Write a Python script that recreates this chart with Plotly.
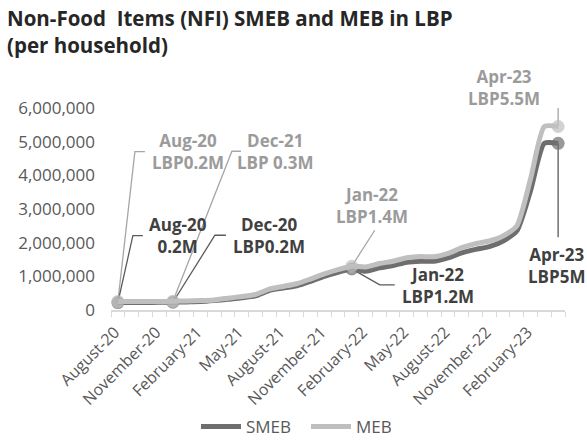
import plotly.graph_objects as go

months = ["Aug-20", "Sep-20", "Oct-20", "Nov-20", "Dec-20", "Jan-21", "Feb-21", "Mar-21",
          "Apr-21", "May-21", "Jun-21", "Jul-21", "Aug-21", "Sep-21", "Oct-21", "Nov-21",
          "Dec-21", "Jan-22", "Feb-22", "Mar-22", "Apr-22", "May-22", "Jun-22", "Jul-22",
          "Aug-22", "Sep-22", "Oct-22", "Nov-22", "Dec-22", "Jan-23", "Feb-23", "Mar-23",
          "Apr-23"]
tick_labels = ["August-20", "", "", "November-20", "", "", "February-21", "", "", "May-21", "", "",
               "August-21", "", "", "November-21", "", "", "February-22", "", "", "May-22", "", "",
               "August-22", "", "", "November-22", "", "", "February-23", "", ""]

smeb = [220000, 220000, 220000, 230000, 230000, 240000, 250000, 280000,
        320000, 360000, 420000, 580000, 650000, 720000, 850000, 1000000,
        1120000, 1220000, 1150000, 1250000, 1320000, 1420000, 1450000, 1450000,
        1550000, 1700000, 1800000, 1880000, 2050000, 2350000, 3550000, 4950000,
        4950000]
meb = [250000, 250000, 250000, 250000, 260000, 270000, 280000, 300000,
       350000, 400000, 460000, 620000, 700000, 780000, 920000, 1070000,
       1200000, 1300000, 1280000, 1380000, 1450000, 1550000, 1590000, 1580000,
       1680000, 1850000, 1970000, 2050000, 2200000, 2500000, 3900000, 5450000,
       5450000]
highlight = ["Aug-20", "Dec-20", "Jan-22", "Apr-23"]

SMEB_C = "#6e6e6e"
MEB_C = "#bfbfbf"
DARK_T = "#404040"
LIGHT_T = "#9b9b9b"
FONT = "Open Sans"

W, H = 587, 443
L, R, T, B = 111, 22, 108, 133
PW, PH = W - L - R, H - T - B

def px(xf):
    return (xf - L) / PW

def py(yf):
    return (H - B - yf) / PH

sizes = [13 if m in highlight else 0 for m in months]

fig = go.Figure()
fig.add_trace(go.Scatter(x=months, y=smeb, name="SMEB", mode="lines+markers",
                         line=dict(color=SMEB_C, width=5, shape="spline", smoothing=0.6),
                         marker=dict(size=sizes, color=SMEB_C, line=dict(width=0))))
fig.add_trace(go.Scatter(x=months, y=meb, name="MEB", mode="lines+markers",
                         line=dict(color=MEB_C, width=5, shape="spline", smoothing=0.6),
                         marker=dict(size=sizes, color=MEB_C, line=dict(width=0))))

def val(series, m):
    return series[months.index(m)]

# (series, month, text, color, xshift, yshift, leader path in px)
labels = [
    (meb, "Aug-20", "Aug-20<br>LBP0.2M", LIGHT_T, 70, 150, "M0,0 L17,150 L27,150"),
    (meb, "Dec-20", "Dec-21<br>LBP 0.3M", LIGHT_T, 102, 150, "M0,0 L59,150 L68,150"),
    (smeb, "Aug-20", "Aug-20<br>0.2M", DARK_T, 60, 67, "M0,0 L15,67 L25,67"),
    (smeb, "Dec-20", "Dec-20<br>LBP0.2M", DARK_T, 96, 67, "M0,0 L42,67 L53,67"),
    (meb, "Jan-22", "Jan-22<br>LBP1.4M", LIGHT_T, 20, 61, "M0,0 L23,36"),
    (smeb, "Jan-22", "Jan-22<br>LBP1.2M", DARK_T, 86, -17, "M0,0 L28,-16 L43,-16"),
    (meb, "Apr-23", "Apr-23<br>LBP5.5M", LIGHT_T, -54, 39, "M0,0 L0,40 L-10,40"),
    (smeb, "Apr-23", "Apr-23<br>LBP5M", DARK_T, -2, -122, "M0,0 L0,-94"),
]
line_col = {LIGHT_T: "#a6a6a6", DARK_T: "#5a5a5a"}
for series, m, text, col, xs, ys, path in labels:
    y = val(series, m)
    fig.add_shape(type="path", xref="x", yref="y", xsizemode="pixel", ysizemode="pixel",
                  xanchor=m, yanchor=y, path=path,
                  line=dict(color=line_col[col], width=1.3), layer="below")
    fig.add_annotation(x=m, y=y, xref="x", yref="y", text="<b>" + text + "</b>",
                       showarrow=False, xshift=xs, yshift=ys,
                       font=dict(family=FONT, size=17, color=col), align="center")

fig.add_annotation(text="<b>Non-Food\u00a0 Items (NFI) SMEB and MEB in LBP<br>(per household)</b>",
                   xref="paper", yref="paper", x=px(5), y=py(2),
                   xanchor="left", yanchor="top", align="left", showarrow=False,
                   font=dict(family=FONT, size=20.5, color="#262626"))

fig.update_layout(
    width=W, height=H,
    margin=dict(l=L, r=R, t=T, b=B, autoexpand=False),
    paper_bgcolor="white", plot_bgcolor="white",
    font=dict(family=FONT, color="#595959"),
    showlegend=True,
    legend=dict(orientation="h", x=px(196), xanchor="left", y=py(427), yanchor="middle",
                entrywidth=55, entrywidthmode="pixels",
                font=dict(family=FONT, size=17, color="#595959"), itemwidth=40),
)
fig.update_xaxes(type="category", categoryorder="array", categoryarray=months,
                 tickmode="array", tickvals=months, ticktext=tick_labels, automargin=False,
                 tickson="boundaries", ticks="outside", ticklen=5, tickcolor="#d9d9d9",
                 showline=True, linecolor="#d9d9d9", linewidth=1.5, showgrid=False,
                 tickangle=-45, tickfont=dict(family=FONT, size=16, color="#595959"),
                 ticklabelshift=-3, ticklabelstandoff=5,
                 range=[-0.5, len(months) - 0.5], zeroline=False)
fig.update_yaxes(range=[0, 6000000], tickvals=[0, 1000000, 2000000, 3000000, 4000000, 5000000, 6000000],
                 tickformat=",d", showgrid=False, zeroline=False, showline=False, automargin=False,
                 ticklabelstandoff=15,
                 tickfont=dict(family=FONT, size=17, color="#595959"), ticks="")

# the page body has a default 8px margin; remove it so the 587x443 figure fills the window
fig.write_html("out.html", config={"displayModeBar": False},
               post_script="document.body.style.margin='0';document.body.style.overflow='hidden';")
